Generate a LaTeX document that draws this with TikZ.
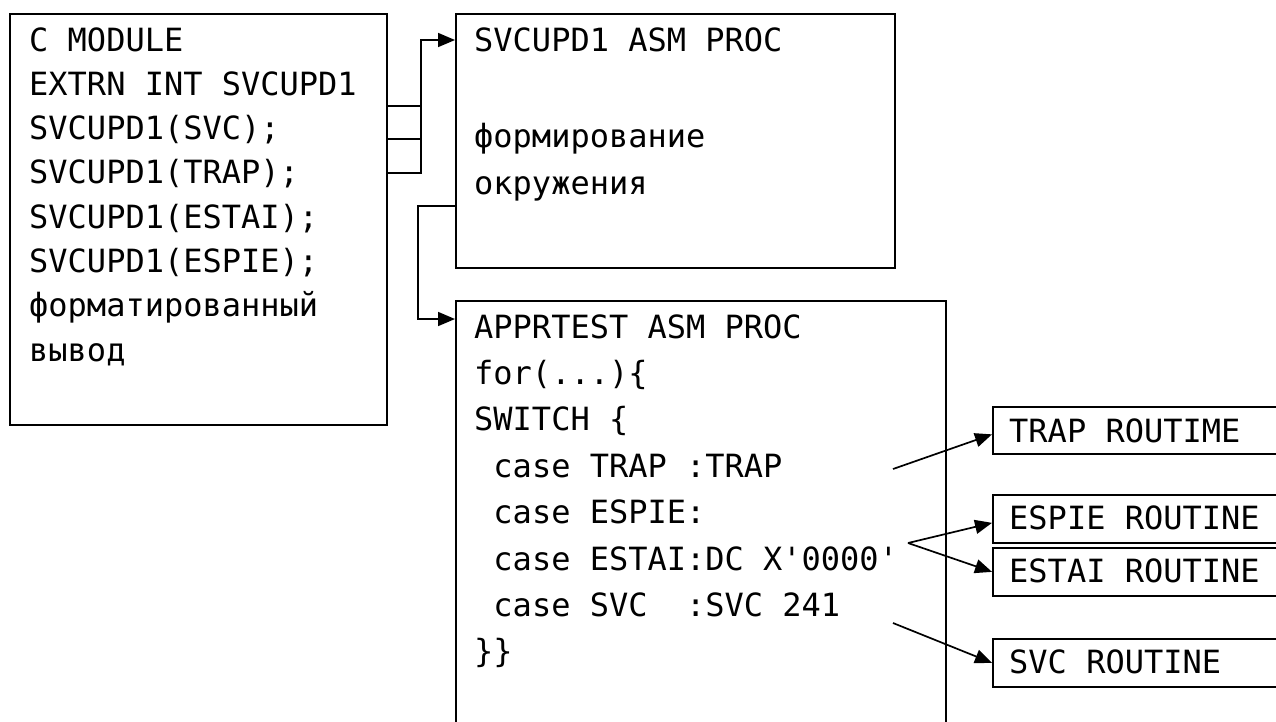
\documentclass[tikz,border=0pt]{standalone}
\usepackage{fontspec}
\setmonofont{DejaVu Sans Mono}
\usetikzlibrary{arrows.meta}
\tikzset{
  box/.style={draw, line width=1.7pt, rectangle, anchor=north west, inner sep=0pt},
  txt/.style={anchor=base west, inner sep=0pt, font=\ttfamily\fontsize{32}{38}\selectfont},
  conn/.style={line width=1.7pt},
  arr/.style={line width=1.7pt, -{Triangle[length=17pt,width=14pt]}}
}
\begin{document}
\begin{tikzpicture}[x=1pt, y=-1pt]
\useasboundingbox (0,0) rectangle (1276,721);
\fill[white] (0,0) rectangle (1276,721);
\clip (0,0) rectangle (1276,721);
% boxes
\node[box, minimum width=377pt, minimum height=411pt] (A) at (9,13) {};
\node[box, minimum width=439pt, minimum height=254pt] (B) at (455,13) {};
\node[box, minimum width=490pt, minimum height=460pt] (C) at (455,300) {};
\node[box, minimum width=300pt, minimum height=47pt] (TR) at (992,406) {};
\node[box, minimum width=300pt, minimum height=48pt] (EP) at (992,494) {};
\node[box, minimum width=300pt, minimum height=48pt] (ES) at (992,547) {};
\node[box, minimum width=300pt, minimum height=48pt] (SV) at (992,638) {};
% box A text
\node[txt] (a1) at (29,51) {C MODULE};
\node[txt] (a2) at (29,95.3) {EXTRN INT SVCUPD1};
\node[txt] (a3) at (29,139.6) {SVCUPD1(SVC);};
\node[txt] (a4) at (29,183.9) {SVCUPD1(TRAP);};
\node[txt] (a5) at (29,228.2) {SVCUPD1(ESTAI);};
\node[txt] (a6) at (29,272.5) {SVCUPD1(ESPIE);};
\node[txt] (a7) at (29,316.8) {форматированный};
\node[txt] (a8) at (29,361.1) {вывод};
% box B text
\node[txt] (b1) at (474,51) {SVCUPD1 ASM PROC};
\node[txt] (b2) at (474,147) {формирование};
\node[txt] (b3) at (474,194) {окружения};
% box C text
\node[txt] (c1) at (474,338) {APPRTEST ASM PROC};
\node[txt] (c2) at (474,384.4) {for(...)\{};
\node[txt] (c3) at (474,430.8) {SWITCH \{};
\node[txt] (c4) at (474,477.2) {\ case TRAP :TRAP};
\node[txt] (c5) at (474,523.6) {\ case ESPIE:};
\node[txt] (c6) at (474,570) {\ case ESTAI:DC X'0000'};
\node[txt] (c7) at (474,616.4) {\ case SVC\ \ :SVC 241};
\node[txt] (c8) at (474,662.8) {\}\}};
% routine text
\node[txt] (t1) at (1009,442) {TRAP ROUTIME};
\node[txt] (t2) at (1009,529) {ESPIE ROUTINE};
\node[txt] (t3) at (1009,582) {ESTAI ROUTINE};
\node[txt] (t4) at (1009,673) {SVC ROUTINE};
% connector coordinates
\coordinate (j1) at (421,106);
\coordinate (j2) at (421,139);
\coordinate (j3) at (421,173);
\coordinate (jt) at (421,40);
\coordinate (k1) at (418,206);
\coordinate (k2) at (418,319);
\coordinate (s1) at (893,469);
\coordinate (s2) at (908,543);
\coordinate (s3) at (893,623);
% A -> B
\draw[conn] (A.east |- j1) -- (j1);
\draw[conn] (A.east |- j2) -- (j2);
\draw[arr] (A.east |- j3) -- (j3) -- (jt) -- (B.west |- jt);
% B -> C
\draw[arr] (B.west |- k1) -- (k1) -- (k2) -- (C.west |- k2);
% C -> routines
\draw[arr] (s1) -- ([yshift=-4pt]TR.west);
\draw[arr] (s2) -- ([yshift=-4pt]EP.west);
\draw[arr] (s2) -- (ES.west);
\draw[arr] (s3) -- (SV.west);
\end{tikzpicture}
\end{document}
